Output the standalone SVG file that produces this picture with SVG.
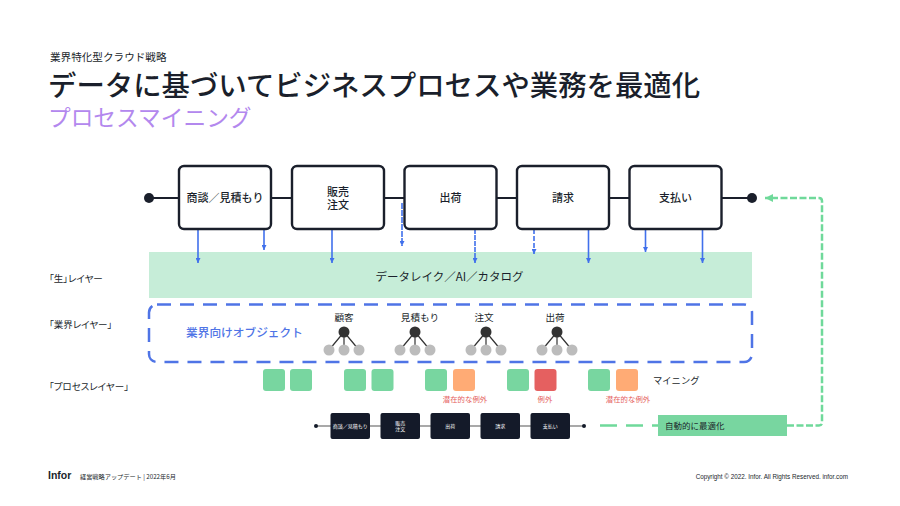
<svg xmlns="http://www.w3.org/2000/svg" width="900" height="506" viewBox="0 0 900 506">
<style>
text{font-family:"Noto Sans CJK JP","Noto Sans",sans-serif;fill:#1a1f2b}
.lat{font-family:"Liberation Sans","Noto Sans CJK JP",sans-serif}
.proc rect{fill:#fff;stroke:#1a1f2b;stroke-width:2.4}
.proc text{font-size:11px;font-weight:500;text-anchor:middle}
.mini rect{fill:#141a29}
.mini text{font-size:5px;fill:#fff;text-anchor:middle}
.flow{stroke:#1a1f2b;stroke-width:2;fill:none}
.down{stroke:#4070ec;stroke-width:1.6;fill:none;marker-end:url(#blue)}
.lay{font-size:9.5px;font-feature-settings:"palt"}
.hub{fill:#333}
.leaf{fill:#bcbcbc}
.spoke{stroke:#333;stroke-width:1.2}
.obj{font-size:9.6px;text-anchor:middle}
.g{fill:#78d6a0}
.o{fill:#ffab75}
.r{fill:#e56060}
.warn{font-size:7.4px;fill:#e56060;text-anchor:middle}
</style>
<defs>
<marker id="blue" markerUnits="userSpaceOnUse" markerWidth="6" markerHeight="5" refX="5" refY="2.5" orient="auto"><path d="M0 0L5 2.5L0 5Z" fill="#4070ec"/></marker>
<marker id="mint" markerUnits="userSpaceOnUse" markerWidth="9" markerHeight="8" refX="8" refY="4" orient="auto"><path d="M0 0L8 4L0 8Z" fill="#6fd99a"/></marker>
</defs>
<rect width="900" height="506" fill="#fff"/>

<g id="heading">
<text x="50" y="61" font-size="10.600">業界特化型クラウド戦略</text>
<text x="48" y="96" font-size="28.400" font-weight="500">データに基づいてビジネスプロセスや業務を最適化</text>
<text x="48" y="126" font-size="22.700" style="fill:#b388ee">プロセスマイニング</text>
</g>

<g id="layer-labels" class="lay">
<text x="49" y="282">「生」レイヤー</text>
<text x="49" y="328">「業界レイヤー」</text>
<text x="49" y="390">「プロセスレイヤー」</text>
</g>

<g id="data-lake">
<rect x="149" y="252" width="603" height="46" fill="#c6edd8"/>
<text x="449.500" y="281" font-size="11.500" text-anchor="middle">データレイク／AI／カタログ</text>
</g>

<g id="connectors">
<path class="flow" d="M149 198H752"/>
<path class="down" d="M198 229V263"/>
<path class="down" d="M264 229V250"/>
<path class="down" d="M332 229V263"/>
<path class="down" stroke-dasharray="6 1" d="M402 203V246"/>
<path class="down" stroke-dasharray="5 1" d="M475 229V263"/>
<path class="down" stroke-dasharray="5 2" d="M534 229V254"/>
<path class="down" d="M588.500 229V263"/>
<path class="down" d="M645.500 229V252"/>
<path class="down" d="M702.500 229V263"/>
<path d="M316 426H584" stroke="#555" stroke-width="1.200" fill="none"/>
<path d="M600 425.500H658" stroke="#6fd99a" stroke-width="2.500" stroke-dasharray="17 9" fill="none"/>
<path d="M787 425.500H819Q822 425.500 822 422.500V201Q822 198 819 198H765" stroke="#6fd99a" stroke-width="2.500" stroke-dasharray="7 2.500" fill="none" marker-end="url(#mint)"/>
</g>

<g id="start-dot"><circle cx="149" cy="198" r="5" fill="#1a1f2b"/></g>
<g id="end-dot"><circle cx="752" cy="198" r="5" fill="#1a1f2b"/></g>

<g id="proc-quote" class="proc"><rect x="179" y="166" width="92" height="63" rx="5"/><text x="225" y="202">商談／見積もり</text></g>
<g id="proc-sales" class="proc"><rect x="292" y="166" width="92" height="63" rx="5"/><text x="338" y="196">販売</text><text x="338" y="209">注文</text></g>
<g id="proc-ship" class="proc"><rect x="404.500" y="166" width="92" height="63" rx="5"/><text x="450.500" y="202">出荷</text></g>
<g id="proc-bill" class="proc"><rect x="517" y="166" width="92" height="63" rx="5"/><text x="563" y="202">請求</text></g>
<g id="proc-pay" class="proc"><rect x="629.500" y="166" width="92" height="63" rx="5"/><text x="675.500" y="202">支払い</text></g>

<g id="industry-layer">
<rect x="149" y="304.500" width="603" height="57.500" rx="8" fill="none" stroke="#4f74e6" stroke-width="2.500" stroke-dasharray="14 9"/>
<text x="186" y="337" font-size="11.700" font-weight="500" style="fill:#4f74e6">業界向けオブジェクト</text>
</g>

<g id="obj-customer">
<text class="obj" x="344" y="321">顧客</text>
<path class="spoke" d="M344 332L329 350M344 332V350M344 332L359 350"/>
<circle class="hub" cx="344" cy="332" r="5.500"/>
<circle class="leaf" cx="329" cy="350" r="5.500"/><circle class="leaf" cx="344" cy="350" r="5.500"/><circle class="leaf" cx="359" cy="350" r="5.500"/>
</g>
<g id="obj-quote">
<text class="obj" x="420" y="321">見積もり</text>
<path class="spoke" d="M415 332L400 350M415 332V350M415 332L430 350"/>
<circle class="hub" cx="415" cy="332" r="5.500"/>
<circle class="leaf" cx="400" cy="350" r="5.500"/><circle class="leaf" cx="415" cy="350" r="5.500"/><circle class="leaf" cx="430" cy="350" r="5.500"/>
</g>
<g id="obj-order">
<text class="obj" x="484" y="321">注文</text>
<path class="spoke" d="M486 332L471 350M486 332V350M486 332L501 350"/>
<circle class="hub" cx="486" cy="332" r="5.500"/>
<circle class="leaf" cx="471" cy="350" r="5.500"/><circle class="leaf" cx="486" cy="350" r="5.500"/><circle class="leaf" cx="501" cy="350" r="5.500"/>
</g>
<g id="obj-shipment">
<text class="obj" x="555" y="321">出荷</text>
<path class="spoke" d="M557 332L542 350M557 332V350M557 332L572 350"/>
<circle class="hub" cx="557" cy="332" r="5.500"/>
<circle class="leaf" cx="542" cy="350" r="5.500"/><circle class="leaf" cx="557" cy="350" r="5.500"/><circle class="leaf" cx="572" cy="350" r="5.500"/>
</g>

<g id="mining">
<rect class="g" x="263" y="369" width="22" height="22" rx="3"/><rect class="g" x="290" y="369" width="22" height="22" rx="3"/>
<rect class="g" x="344" y="369" width="22" height="22" rx="3"/><rect class="g" x="371.500" y="369" width="22" height="22" rx="3"/>
<rect class="g" x="425" y="369" width="22" height="22" rx="3"/><rect class="o" x="453" y="369" width="22" height="22" rx="3"/>
<rect class="g" x="507" y="369" width="22" height="22" rx="3"/><rect class="r" x="534.500" y="369" width="22" height="22" rx="3"/>
<rect class="g" x="588" y="369" width="22" height="22" rx="3"/><rect class="o" x="616" y="369" width="22" height="22" rx="3"/>
<text class="warn" x="465" y="402">潜在的な例外</text>
<text class="warn" x="545" y="402">例外</text>
<text class="warn" x="628" y="402">潜在的な例外</text>
<text x="653" y="384" font-size="9.300">マイニング</text>
</g>

<g id="mini-start"><circle cx="316" cy="426" r="2" fill="#141a29"/></g>
<g id="mini-end"><circle cx="584" cy="426" r="2" fill="#141a29"/></g>
<g id="mini-quote" class="mini"><rect x="330.500" y="413" width="39.500" height="26" rx="2"/><text x="350.200" y="428">商談／見積もり</text></g>
<g id="mini-sales" class="mini"><rect x="380.500" y="413" width="39.500" height="26" rx="2"/><text x="400.200" y="424.500">販売</text><text x="400.200" y="431">注文</text></g>
<g id="mini-ship" class="mini"><rect x="430.500" y="413" width="39.500" height="26" rx="2"/><text x="450.200" y="428">出荷</text></g>
<g id="mini-bill" class="mini"><rect x="480.500" y="413" width="39.500" height="26" rx="2"/><text x="500.200" y="428">請求</text></g>
<g id="mini-pay" class="mini"><rect x="530.500" y="413" width="39.500" height="26" rx="2"/><text x="550.200" y="428">支払い</text></g>

<g id="auto-optimize">
<rect x="658" y="415" width="129" height="21" fill="#78d6a0"/>
<text x="665" y="429" font-size="8.500">自動的に最適化</text>
</g>

<g id="footer">
<text class="lat" x="48" y="479" font-size="10.500" font-weight="700">Infor</text>
<text x="80" y="479" font-size="6.200">経営戦略アップデート | 2022年6月</text>
<text class="lat" x="848" y="479" font-size="6.300" text-anchor="end">Copyright © 2022. Infor. All Rights Reserved. infor.com</text>
</g>
</svg>
